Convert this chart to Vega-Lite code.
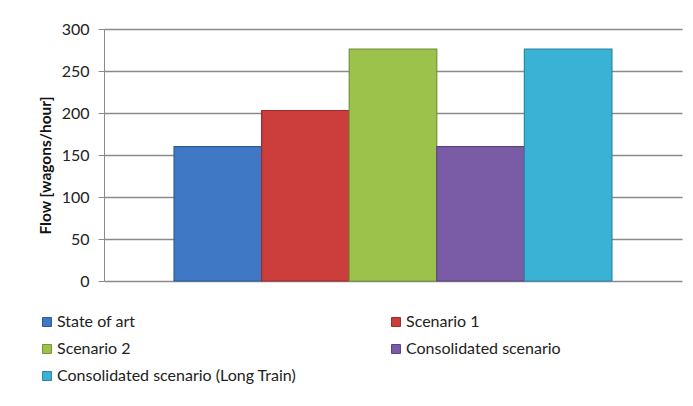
{
  "$schema": "https://vega.github.io/schema/vega-lite/v6.json",
  "width": 578,
  "height": 252,
  "autosize": "none",
  "padding": {"left": 104, "top": 29, "right": 11, "bottom": 125},
  "background": "white",
  "data": {
    "values": [
      {"scenario": "State of art", "flow": 160},
      {"scenario": "Scenario 1", "flow": 203},
      {"scenario": "Scenario 2", "flow": 276},
      {"scenario": "Consolidated scenario", "flow": 160},
      {"scenario": "Consolidated scenario (Long Train)", "flow": 276}
    ]
  },
  "mark": {"type": "bar", "strokeWidth": 1.2},
  "encoding": {
    "x": {
      "field": "scenario",
      "type": "nominal",
      "sort": null,
      "scale": {"paddingInner": 0, "paddingOuter": 0.8},
      "axis": null
    },
    "y": {
      "field": "flow",
      "type": "quantitative",
      "scale": {"domain": [0, 300]},
      "axis": {
        "values": [0, 50, 100, 150, 200, 250, 300],
        "title": "Flow [wagons/hour]",
        "titleFont": "Lato",
        "titleFontSize": 15.5,
        "titleFontWeight": "bold",
        "titleColor": "#111",
        "titlePadding": 8,
        "titleY": 136,
        "labelFont": "Lato",
        "labelFontSize": 16,
        "labelColor": "#222",
        "labelPadding": 9,
        "tickSize": 6,
        "tickColor": "#8a8a8a",
        "domainColor": "#8a8a8a",
        "grid": true,
        "gridColor": "#8a8a8a",
        "gridWidth": 1.3
      }
    },
    "fill": {
      "field": "scenario",
      "type": "nominal",
      "sort": null,
      "scale": {"range": ["#3f78c4", "#cc3e3b", "#9cc24c", "#7a5ca6", "#3ab2d6"]},
      "legend": {
        "title": null,
        "orient": "none",
        "legendX": -65,
        "legendY": 285,
        "columns": 2,
        "direction": "horizontal",
        "columnPadding": 91,
        "rowPadding": 11,
        "symbolType": "square",
        "symbolSize": 80,
        "symbolStrokeWidth": 1,
        "labelFont": "Lato",
        "labelFontSize": 16,
        "labelColor": "#222",
        "labelOffset": 2,
        "labelLimit": 400
      }
    },
    "stroke": {
      "field": "scenario",
      "type": "nominal",
      "sort": null,
      "scale": {"range": ["#2c5a96", "#9a2c2a", "#769436", "#5a437d", "#2a87a3"]},
      "legend": {
        "title": null,
        "orient": "none",
        "legendX": -65,
        "legendY": 285,
        "columns": 2,
        "direction": "horizontal",
        "columnPadding": 91,
        "rowPadding": 11,
        "symbolType": "square",
        "symbolSize": 80,
        "symbolStrokeWidth": 1,
        "labelFont": "Lato",
        "labelFontSize": 16,
        "labelColor": "#222",
        "labelOffset": 2,
        "labelLimit": 400
      }
    }
  },
  "config": {"view": {"stroke": null}}
}
